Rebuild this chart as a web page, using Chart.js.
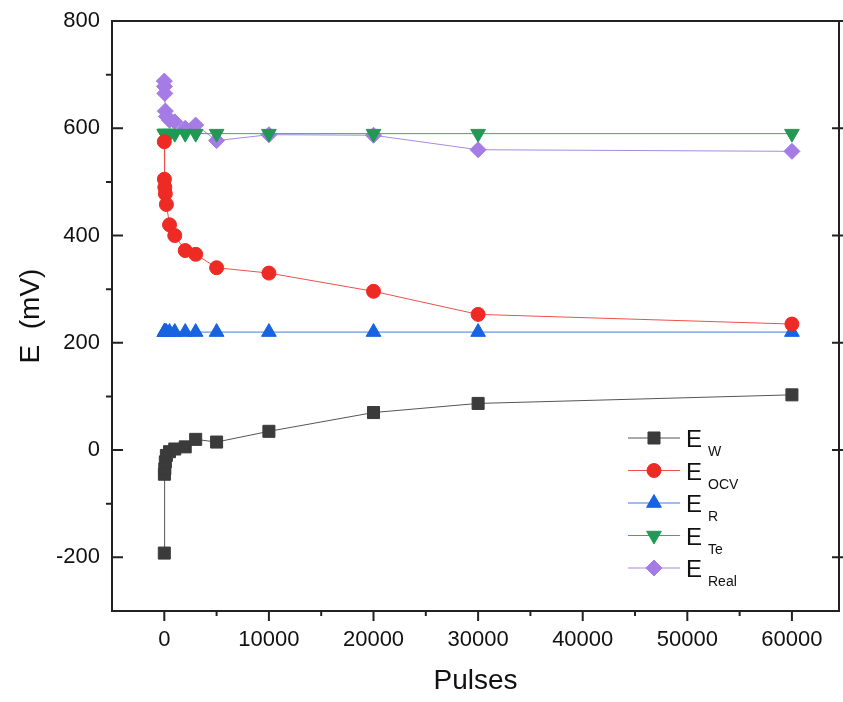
<!DOCTYPE html>
<html>
<head>
<meta charset="utf-8">
<script src="https://cdn.jsdelivr.net/npm/chart.js@4"></script>
<style>
  html, body { margin: 0; padding: 0; background: #fff; }
  #wrap { width: 843px; height: 702px; }
</style>
</head>
<body>
<div id="wrap"><canvas id="myChart" width="843" height="702"></canvas></div>
<script>
// data
const pulses = [1, 10, 50, 100, 200, 500, 1000, 2000, 3000, 5000, 10000, 20000, 30000, 60000];
const eW    = [-192, -45, -35, -22, -10, -3, 2, 6, 20, 15, 35, 70, 87, 103];
const eOCV  = [575, 505, 490, 478, 458, 420, 400, 372, 365, 340, 330, 296, 253, 235];
const eR    = [220, 220, 220, 220, 220, 220, 220, 220, 220, 220, 220, 220, 220, 220];
const eTe   = [590, 590, 590, 590, 590, 590, 590, 590, 590, 590, 590, 590, 590, 590];
const eReal = [688, 678, 665, 632, 622, 615, 612, 600, 606, 577, 588, 587, 560, 557];

const xTicks = [0, 10000, 20000, 30000, 40000, 50000, 60000];
const yTicks = [-200, 0, 200, 400, 600, 800];

const series = [
    { sub: 'W',    values: eW,    color: '#3b3b3b', line: '#555555', style: 'rect',     radius: 8.5, rot: 0 },
    { sub: 'OCV',  values: eOCV,  color: '#ee2a24', line: '#f0504a', style: 'circle',   radius: 7,   rot: 0 },
    { sub: 'R',    values: eR,    color: '#1763e0', line: '#3b7de8', style: 'triangle', radius: 8.5, rot: 0 },
    { sub: 'Te',   values: eTe,   color: '#1f9a55', line: '#3aa868', style: 'triangle', radius: 8.5, rot: 180 },
    { sub: 'Real', values: eReal, color: '#a57be6', line: '#a989e6', style: 'rectRot',  radius: 8,   rot: 0 },
];

const FONT = '"Liberation Sans", Arial, sans-serif';

const frameAndLegend = {
    id: 'frameAndLegend',
    afterDraw(chart) {
        const ctx = chart.ctx;
        const a = chart.chartArea;
        const xs = chart.scales.x;
        const ys = chart.scales.y;
        ctx.save();
        ctx.strokeStyle = '#222';
        ctx.lineWidth = 2;
        ctx.strokeRect(a.left, a.top, a.right - a.left, a.bottom - a.top);

        // x ticks: major and minor outward
        ctx.beginPath();
        xTicks.forEach(v => {
            const px = xs.getPixelForValue(v);
            ctx.moveTo(px, a.bottom); ctx.lineTo(px, a.bottom + 10);
            const mx = xs.getPixelForValue(v + 5000);
            if (mx < a.right - 2) { ctx.moveTo(mx, a.bottom); ctx.lineTo(mx, a.bottom + 5); }
        });
        const m0 = xs.getPixelForValue(-5000);
        if (m0 > a.left + 2) { ctx.moveTo(m0, a.bottom); ctx.lineTo(m0, a.bottom + 5); }
        // y ticks: major inward on left, minor outward; right side crossing
        yTicks.forEach(v => {
            const py = ys.getPixelForValue(v);
            ctx.moveTo(a.left, py); ctx.lineTo(a.left + 11, py);
            ctx.moveTo(a.right - 7, py); ctx.lineTo(a.right + 4, py);
            const my = ys.getPixelForValue(v + 100);
            if (my > a.top + 2) { ctx.moveTo(a.left, my); ctx.lineTo(a.left - 6, my); }
        });
        ctx.stroke();

        // legend with subscripts
        const lx = 628, ly = 438, step = 32.5;
        series.forEach((s, i) => {
            const y = ly + i * step;
            ctx.strokeStyle = s.line;
            ctx.lineWidth = 1;
            ctx.beginPath();
            ctx.moveTo(lx, y); ctx.lineTo(lx + 52, y);
            ctx.stroke();
            ctx.fillStyle = s.color;
            ctx.strokeStyle = s.color;
            Chart.helpers.drawPoint(ctx, { pointStyle: s.style, radius: s.radius, rotation: s.rot, borderWidth: 1 }, lx + 26, y);
            ctx.fillStyle = '#111';
            ctx.textBaseline = 'alphabetic';
            ctx.textAlign = 'left';
            ctx.font = '24px ' + FONT;
            ctx.fillText('E', lx + 58, y + 9);
            ctx.font = '14px ' + FONT;
            ctx.fillText(s.sub, lx + 80, y + 18);
        });
        ctx.restore();
    }
};

function drawChart() {
    const ctx = document.getElementById('myChart').getContext('2d');
    const datasets = series.map(s => ({
        label: 'E ' + s.sub,
        data: pulses.map((p, i) => ({ x: p, y: s.values[i] })),
        showLine: true,
        borderColor: s.line,
        borderWidth: 1,
        backgroundColor: s.color,
        pointBackgroundColor: s.color,
        pointBorderColor: s.color,
        pointBorderWidth: 1,
        pointStyle: s.style,
        pointRotation: s.rot,
        pointRadius: s.radius,
        tension: 0,
        fill: false,
    }));

    new Chart(ctx, {
        type: 'scatter',
        data: { datasets },
        options: {
            responsive: false,
            animation: false,
            layout: { autoPadding: false, padding: { top: 21, right: 4, left: 0, bottom: 0 } },
            plugins: {
                legend: { display: false },
                tooltip: { enabled: false },
            },
            scales: {
                x: {
                    type: 'linear',
                    min: -5000,
                    max: 64500,
                    afterBuildTicks: (scale) => { scale.ticks = xTicks.map(v => ({ value: v })); },
                    afterFit: (scale) => {
                        scale.height = 91;
                        scale.paddingLeft = 0;
                        scale.paddingRight = 0;
                    },
                    grid: { display: false, drawTicks: false },
                    border: { display: false },
                    ticks: {
                        color: '#111',
                        padding: 16,
                        maxRotation: 0,
                        font: { family: FONT, size: 22 },
                        callback: (v) => String(v),
                    },
                    title: {
                        display: true,
                        text: 'Pulses',
                        color: '#111',
                        padding: { top: 12 },
                        font: { family: FONT, size: 28 },
                    },
                },
                y: {
                    type: 'linear',
                    min: -300,
                    max: 800,
                    afterBuildTicks: (scale) => { scale.ticks = yTicks.map(v => ({ value: v })); },
                    afterFit: (scale) => {
                        scale.width = 112;
                        scale.paddingTop = 0;
                        scale.paddingBottom = 0;
                    },
                    grid: { display: false, drawTicks: false },
                    border: { display: false },
                    ticks: {
                        color: '#111',
                        padding: 12,
                        font: { family: FONT, size: 22 },
                    },
                    title: {
                        display: true,
                        text: 'E  (mV)',
                        color: '#111',
                        padding: { top: 14, bottom: 0 },
                        font: { family: FONT, size: 28 },
                    },
                },
            },
        },
        plugins: [frameAndLegend],
    });
}

drawChart();
</script>
</body>
</html>
